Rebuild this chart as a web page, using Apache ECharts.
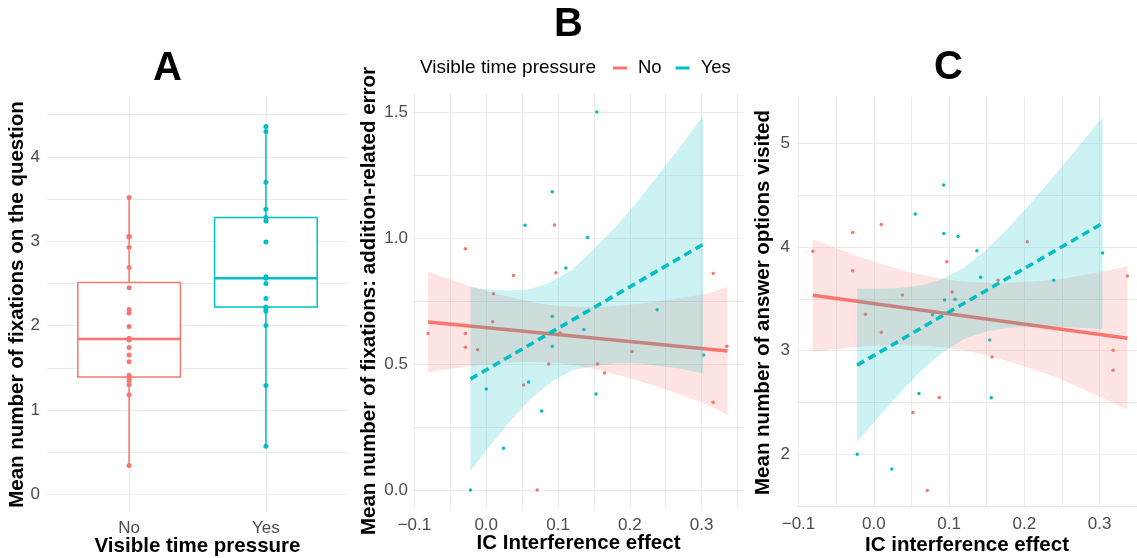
<!DOCTYPE html>
<html>
<head>
<meta charset="utf-8">
<script src="https://cdn.jsdelivr.net/npm/echarts@6.0.0/dist/echarts.min.js"></script>
<style>
  html, body { margin: 0; padding: 0; background: #fff; }
  #chart { width: 1137px; height: 558px; }
</style>
</head>
<body>
<div id="chart"></div>
<script>
// colours (ggplot default hues)
const RED = '#F8766D';
const CYAN = '#00BFC4';
const RED_FILL = 'rgba(248,118,109,0.2)';
const CYAN_FILL = 'rgba(0,191,196,0.2)';
const FONT = 'Liberation Sans, Arial, sans-serif';

// ---- panel A: boxplot data ----
const groups = ['No', 'Yes'];
// [lower whisker, Q1, median, Q3, upper whisker]
const boxNo = [0.34, 1.39, 1.84, 2.51, 3.52];
const boxYes = [0.57, 2.22, 2.56, 3.28, 4.37];
const aNo = [3.52, 3.06, 3.05, 2.93, 2.69, 2.45, 2.19, 2.15, 1.99, 1.85, 1.83, 1.74, 1.65, 1.57, 1.41, 1.38, 1.35, 1.30, 1.18, 0.34];
const aYes = [4.36, 4.30, 3.70, 3.38, 3.28, 3.24, 2.99, 2.58, 2.56, 2.50, 2.32, 2.22, 2.20, 2.17, 2.00, 1.29, 0.57];

// ---- panel B: addition-related error ----
const bNoX = [-0.081, -0.029, -0.029, -0.029, -0.012, 0.009, 0.010, 0.038, 0.052, 0.071, 0.087, 0.095, 0.097, 0.103, 0.155, 0.165, 0.203, 0.316, 0.316, 0.335];
const bNoY = [0.621, 0.957, 0.621, 0.567, 0.557, 0.668, 0.779, 0.851, 0.417, 0.000, 0.500, 1.051, 0.862, 0.623, 0.500, 0.464, 0.550, 0.859, 0.348, 0.571];
const bYesX = [-0.022, 0.000, 0.024, 0.054, 0.059, 0.077, 0.092, 0.092, 0.092, 0.111, 0.136, 0.141, 0.153, 0.154, 0.238, 0.303];
const bYesY = [0.000, 0.401, 0.166, 1.050, 0.429, 0.314, 1.183, 0.690, 0.571, 0.881, 0.637, 1.002, 0.381, 1.500, 0.715, 0.536];
const bNoLineX = [-0.081, 0.336];
const bNoLineY = [0.667, 0.552];
const bYesLineX = [-0.022, 0.302];
const bYesLineY = [0.441, 0.974];
const bNoBandX = [-0.081, -0.05, -0.02, 0.01, 0.04, 0.07, 0.10, 0.13, 0.16, 0.19, 0.22, 0.25, 0.28, 0.31, 0.336];
const bNoBandHi = [0.867, 0.835, 0.807, 0.782, 0.760, 0.742, 0.730, 0.726, 0.726, 0.732, 0.741, 0.753, 0.766, 0.781, 0.805];
const bNoBandLo = [0.467, 0.481, 0.493, 0.502, 0.508, 0.508, 0.504, 0.492, 0.474, 0.452, 0.427, 0.399, 0.368, 0.337, 0.298];
const bYesBandX = [-0.022, 0.0, 0.03, 0.06, 0.09, 0.12, 0.15, 0.18, 0.21, 0.24, 0.27, 0.302];
const bYesBandHi = [0.806, 0.797, 0.792, 0.796, 0.824, 0.875, 0.956, 1.043, 1.143, 1.252, 1.362, 1.484];
const bYesBandLo = [0.076, 0.157, 0.262, 0.356, 0.428, 0.475, 0.492, 0.503, 0.503, 0.492, 0.482, 0.462];

// ---- panel C: answer options visited ----
const cNoX = [-0.081, -0.028, -0.028, -0.011, 0.010, 0.010, 0.038, 0.052, 0.071, 0.087, 0.097, 0.104, 0.157, 0.165, 0.204, 0.318, 0.318, 0.337];
const cNoY = [3.96, 4.142, 3.771, 3.351, 4.219, 3.177, 3.537, 2.402, 1.65, 2.547, 3.858, 3.566, 2.939, 3.679, 4.051, 3.004, 2.81, 3.72];
const cYesX = [-0.022, 0.024, 0.055, 0.060, 0.078, 0.093, 0.093, 0.094, 0.108, 0.112, 0.137, 0.142, 0.154, 0.156, 0.239, 0.304];
const cYesY = [2.0, 1.857, 4.32, 2.585, 3.347, 4.60, 4.132, 3.489, 3.496, 4.103, 3.964, 3.708, 3.103, 2.544, 3.679, 3.942];
const cNoLineX = [-0.081, 0.337];
const cNoLineY = [3.534, 3.120];
const cYesLineX = [-0.022, 0.304];
const cYesLineY = [2.860, 4.230];
const cNoBandX = [-0.081, -0.05, -0.02, 0.01, 0.04, 0.07, 0.10, 0.13, 0.16, 0.19, 0.22, 0.25, 0.28, 0.31, 0.337];
const cNoBandHi = [4.077, 3.989, 3.910, 3.837, 3.772, 3.720, 3.684, 3.661, 3.653, 3.659, 3.672, 3.692, 3.732, 3.772, 3.817];
const cNoBandLo = [2.991, 3.017, 3.038, 3.051, 3.056, 3.048, 3.026, 2.989, 2.937, 2.873, 2.800, 2.720, 2.622, 2.522, 2.430];
const cYesBandX = [-0.022, 0.0, 0.03, 0.06, 0.09, 0.12, 0.15, 0.18, 0.21, 0.24, 0.27, 0.304];
const cYesBandHi = [3.600, 3.597, 3.603, 3.627, 3.686, 3.801, 3.978, 4.196, 4.438, 4.692, 4.954, 5.257];
const cYesBandLo = [2.120, 2.307, 2.555, 2.783, 2.976, 3.113, 3.188, 3.222, 3.232, 3.230, 3.220, 3.206];

// tick positions (major + minor gridlines) and labelled ticks
const aYTicks = [0, 0.5, 1, 1.5, 2, 2.5, 3, 3.5, 4, 4.5];
const aYLabels = [0, 1, 2, 3, 4];
const icTicks = [-0.1, -0.05, 0, 0.05, 0.1, 0.15, 0.2, 0.25, 0.3, 0.35];
const icLabels = [-0.1, 0, 0.1, 0.2, 0.3];
const bYTicks = [0, 0.25, 0.5, 0.75, 1, 1.25, 1.5];
const bYLabels = [0, 0.5, 1, 1.5];
const cYTicks = [1.5, 2, 2.5, 3, 3.5, 4, 4.5, 5];
const cYLabels = [2, 3, 4, 5];

function fmt1(v) {
  return (v < 0 ? '\u2212' : '') + Math.abs(v).toFixed(1);
}

function axis(idx, min, max, ticks, labels, fmt, margin, name, nameGap) {
  return {
    type: 'value', gridIndex: idx, min: min, max: max,
    name: name, nameLocation: 'middle', nameGap: nameGap, nameMoveOverlap: false,
    nameTextStyle: { fontSize: 20.5, fontWeight: 'bold', color: '#000', fontFamily: FONT },
    axisLine: { show: false },
    axisTick: { show: false, customValues: ticks },
    axisLabel: { customValues: labels, formatter: fmt, margin: margin, color: '#4D4D4D', fontSize: 17, fontFamily: FONT },
    splitLine: { show: true, lineStyle: { color: '#EBEBEB', width: 1 } }
  };
}

function pts(xs, ys) {
  return xs.map((x, i) => [x, ys[i]]);
}

// draw order as in ggplot: points, then each group's ribbon + line
function scatter(idx, data, color, size) {
  return { type: 'scatter', xAxisIndex: idx, yAxisIndex: idx, data: data, symbolSize: size, z: 1,
    itemStyle: { color: color, opacity: 1 }, silent: true };
}

function band(idx, xs, lo, hi, fill, z) {
  return {
    type: 'custom', xAxisIndex: idx, yAxisIndex: idx, data: [0], silent: true, z: z,
    renderItem: function (params, api) {
      const top = xs.map((x, i) => api.coord([x, hi[i]]));
      const bottom = xs.map((x, i) => api.coord([x, lo[i]])).reverse();
      return { type: 'polygon', shape: { points: top.concat(bottom) }, style: { fill: fill } };
    }
  };
}

function fitLine(idx, name, xs, ys, color, dashed, z) {
  return {
    type: 'line', name: name, xAxisIndex: idx, yAxisIndex: idx, data: pts(xs, ys), z: z,
    showSymbol: false, silent: true,
    lineStyle: { color: color, width: 3.5, type: dashed ? [8, 5] : 'solid' },
    itemStyle: { color: color }
  };
}

const chart = echarts.init(document.getElementById('chart'));

const option = {
  animation: false,
  textStyle: { fontFamily: FONT },
  title: [
    { text: 'A', left: 153, top: 48.5, padding: 0, textStyle: { fontSize: 40, fontWeight: 'bold', color: '#000', fontFamily: FONT } },
    { text: 'B', left: 554, top: 4.5, padding: 0, textStyle: { fontSize: 40, fontWeight: 'bold', color: '#000', fontFamily: FONT } },
    { text: 'C', left: 934, top: 47.5, padding: 0, textStyle: { fontSize: 40, fontWeight: 'bold', color: '#000', fontFamily: FONT } },
    { text: 'Visible time pressure', left: 420, top: 58.5, padding: 0, textStyle: { fontSize: 19, fontWeight: 'normal', color: '#000', fontFamily: FONT } }
  ],
  legend: {
    left: 613, top: 58.5, padding: 0, selectedMode: false,
    icon: 'rect', itemWidth: 14, itemHeight: 3, itemGap: 14,
    textStyle: { fontSize: 18.5, color: '#000', fontFamily: FONT, padding: [0, 0, 0, 6] },
    data: [
      { name: 'No', itemStyle: { color: RED, borderWidth: 0 } },
      { name: 'Yes', itemStyle: { color: CYAN, borderWidth: 0 } }
    ]
  },
  grid: [
    { left: 47, right: 789, top: 97, bottom: 46, containLabel: false, outerBoundsMode: 'none' },
    { left: 413, right: 393, top: 93, bottom: 49, containLabel: false, outerBoundsMode: 'none' },
    { left: 797, right: 0, top: 97, bottom: 50, containLabel: false, outerBoundsMode: 'none' }
  ],
  xAxis: [
    axis(0, 0.4, 2.6, [1, 2], [1, 2], v => groups[Math.round(v) - 1], 8, 'Visible time pressure', 23.5),
    axis(1, -0.102, 0.359, icTicks, icLabels, fmt1, 8, 'IC Interference effect', 24),
    axis(2, -0.102, 0.3497, icTicks, icLabels, fmt1, 8, 'IC interference effect', 26.5)
  ],
  yAxis: [
    axis(0, -0.21, 4.71, aYTicks, aYLabels, v => String(v), 7, 'Mean number of fixations on the question', 19),
    axis(1, -0.075, 1.575, bYTicks, bYLabels, fmt1, 5, 'Mean number of fixations: addition-related error', 33),
    axis(2, 1.48, 5.45, cYTicks, cYLabels, v => String(v), 7, 'Mean number of answer options visited', 23)
  ],
  series: [
    // A: boxes
    {
      type: 'custom', xAxisIndex: 0, yAxisIndex: 0, silent: true, z: 0,
      data: [[1].concat(boxNo), [2].concat(boxYes)],
      encode: { x: 0, y: [1, 2, 3, 4, 5] },
      renderItem: function (params, api) {
        const x = api.value(0);
        const color = params.dataIndex === 0 ? RED : CYAN;
        const lo = api.coord([x, api.value(1)]);
        const q1 = api.coord([x, api.value(2)]);
        const md = api.coord([x, api.value(3)]);
        const q3 = api.coord([x, api.value(4)]);
        const hi = api.coord([x, api.value(5)]);
        const half = api.size([0.375, 0])[0];
        const cx = lo[0];
        const st = { stroke: color, lineWidth: 1.5 };
        return {
          type: 'group',
          children: [
            { type: 'line', shape: { x1: cx, y1: hi[1], x2: cx, y2: q3[1] }, style: st },
            { type: 'line', shape: { x1: cx, y1: q1[1], x2: cx, y2: lo[1] }, style: st },
            { type: 'rect', shape: { x: cx - half, y: q3[1], width: half * 2, height: q1[1] - q3[1] },
              style: { fill: '#fff', stroke: color, lineWidth: 1.5 } },
            { type: 'line', shape: { x1: cx - half, y1: md[1], x2: cx + half, y2: md[1] },
              style: { stroke: color, lineWidth: 2.5 } }
          ]
        };
      }
    },
    scatter(0, aNo.map(v => [1, v]), RED, 5),
    scatter(0, aYes.map(v => [2, v]), CYAN, 5),

    // B
    scatter(1, pts(bNoX, bNoY), RED, 3.5),
    scatter(1, pts(bYesX, bYesY), CYAN, 3.5),
    band(1, bNoBandX, bNoBandLo, bNoBandHi, RED_FILL, 2),
    fitLine(1, 'No', bNoLineX, bNoLineY, RED, false, 3),
    band(1, bYesBandX, bYesBandLo, bYesBandHi, CYAN_FILL, 4),
    fitLine(1, 'Yes', bYesLineX, bYesLineY, CYAN, true, 5),

    // C
    scatter(2, pts(cNoX, cNoY), RED, 3.5),
    scatter(2, pts(cYesX, cYesY), CYAN, 3.5),
    band(2, cNoBandX, cNoBandLo, cNoBandHi, RED_FILL, 2),
    fitLine(2, 'No', cNoLineX, cNoLineY, RED, false, 3),
    band(2, cYesBandX, cYesBandLo, cYesBandHi, CYAN_FILL, 4),
    fitLine(2, 'Yes', cYesLineX, cYesLineY, CYAN, true, 5)
  ]
};

chart.setOption(option);
</script>
</body>
</html>
